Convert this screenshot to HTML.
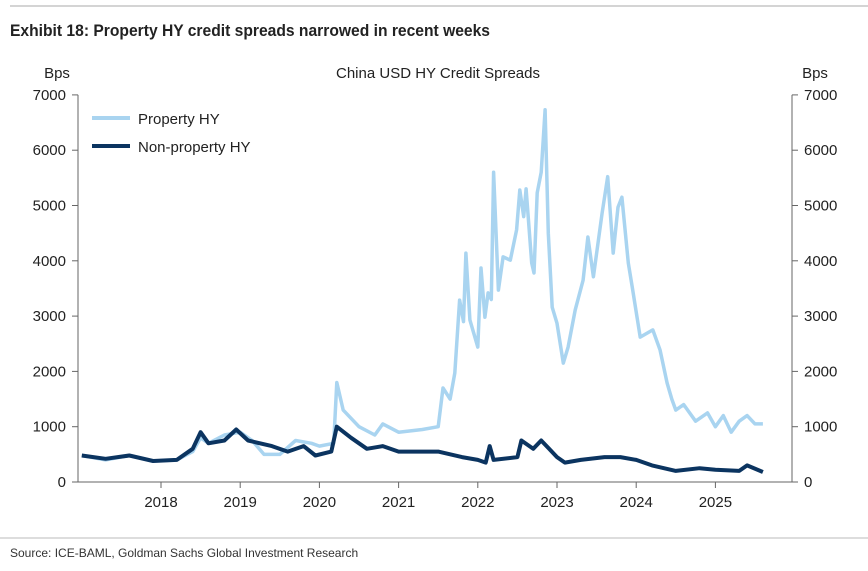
<!DOCTYPE html>
<html><head><meta charset="utf-8"><style>
body{margin:0;background:#fff;width:868px;height:566px;overflow:hidden;font-family:"Liberation Sans",sans-serif}
</style></head><body>
<svg width="868" height="566" font-family="Liberation Sans, sans-serif">
<line x1="10" y1="6" x2="868" y2="6" stroke="#aaa" stroke-width="1"/>
<text x="10" y="36" font-size="17" font-weight="bold" fill="#222" textLength="480" lengthAdjust="spacingAndGlyphs">Exhibit 18: Property HY credit spreads narrowed in recent weeks</text>
<text x="438" y="78" font-size="15" fill="#222" text-anchor="middle">China USD HY Credit Spreads</text>
<text x="57" y="78" font-size="15" fill="#222" text-anchor="middle">Bps</text>
<text x="815" y="78" font-size="15" fill="#222" text-anchor="middle">Bps</text>
<g id="axes"></g>
<g id="series"></g>
<g>
<line x1="92" y1="118" x2="130" y2="118" stroke="#a9d4f0" stroke-width="4"/>
<text x="138" y="124" font-size="15" fill="#222">Property HY</text>
<line x1="92" y1="146" x2="130" y2="146" stroke="#0b3460" stroke-width="4"/>
<text x="138" y="152" font-size="15" fill="#222">Non-property HY</text>
</g>
<line x1="0" y1="538" x2="868" y2="538" stroke="#bbb" stroke-width="1"/>
<text x="10" y="557" font-size="12" fill="#333">Source: ICE-BAML, Goldman Sachs Global Investment Research</text>
</svg>
<script>
const yTicks=[0,1000,2000,3000,4000,5000,6000,7000];
const xYears=[2018,2019,2020,2021,2022,2023,2024,2025];
const propT=[2017.0,2017.3,2017.6,2017.9,2018.2,2018.4,2018.5,2018.6,2018.8,2019.0,2019.15,2019.3,2019.5,2019.7,2019.9,2020.0,2020.18,2020.22,2020.3,2020.5,2020.7,2020.8,2021.0,2021.3,2021.5,2021.56,2021.65,2021.71,2021.77,2021.82,2021.85,2021.9,2022.0,2022.04,2022.09,2022.13,2022.17,2022.2,2022.26,2022.32,2022.41,2022.49,2022.53,2022.58,2022.61,2022.68,2022.71,2022.75,2022.8,2022.85,2022.89,2022.94,2023.0,2023.08,2023.14,2023.23,2023.33,2023.39,2023.46,2023.57,2023.64,2023.71,2023.77,2023.82,2023.9,2023.95,2024.05,2024.21,2024.3,2024.39,2024.45,2024.5,2024.6,2024.75,2024.9,2025.0,2025.1,2025.2,2025.3,2025.4,2025.5,2025.6];
const propV=[480,400,480,380,400,550,800,700,850,900,750,500,500,750,700,650,700,1800,1300,1000,850,1050,900,950,1000,1700,1500,1970,3290,2900,4140,2930,2440,3870,2980,3420,3300,5600,3470,4070,4010,4560,5280,4800,5300,3960,3780,5230,5600,6730,4500,3160,2870,2150,2440,3110,3650,4430,3710,4860,5520,4140,4970,5150,3960,3530,2620,2750,2390,1790,1500,1300,1400,1100,1250,1000,1200,900,1100,1200,1050,1050];
const nonT=[2017.0,2017.3,2017.6,2017.9,2018.2,2018.4,2018.5,2018.6,2018.8,2018.95,2019.1,2019.4,2019.6,2019.8,2019.95,2020.15,2020.22,2020.4,2020.6,2020.8,2021.0,2021.5,2021.8,2022.0,2022.1,2022.15,2022.2,2022.5,2022.55,2022.7,2022.8,2022.9,2023.0,2023.1,2023.3,2023.6,2023.8,2024.0,2024.2,2024.5,2024.8,2025.0,2025.3,2025.4,2025.6];
const nonV=[480,420,480,380,400,600,900,700,750,950,750,650,550,650,480,550,1000,800,600,650,550,550,450,400,350,650,400,450,750,600,750,600,450,350,400,450,450,400,300,200,250,220,200,300,180];
const L=78,R=792,Y0=482,PXK=55.3/1000;
const xs=t=>161+(t-2018)*79.2, ys=v=>Y0-v*PXK;
const NS='http://www.w3.org/2000/svg';
function mk(tag,attrs,parent){const e=document.createElementNS(NS,tag);for(const k in attrs)e.setAttribute(k,attrs[k]);parent.appendChild(e);return e;}
const ax=document.getElementById('axes');
let e=mk('line',{x1:L,y1:ys(7000),x2:L,y2:Y0,stroke:'#666'},ax);


e=mk('line',{x1:R,y1:ys(7000),x2:R,y2:Y0,stroke:'#666'},ax);


e=mk('line',{x1:L,y1:Y0,x2:R,y2:Y0,stroke:'#666'},ax);


yTicks.forEach(v=>{const y=ys(v);
mk('line',{x1:L-6,y1:y,x2:L,y2:y,stroke:'#666'},ax);
mk('line',{x1:R,y1:y,x2:R+6,y2:y,stroke:'#666'},ax);
let t=mk('text',{x:L-12,y:y+5,'font-size':15,fill:'#222','text-anchor':'end'},ax);t.textContent=v;


t=mk('text',{x:R+12,y:y+5,'font-size':15,fill:'#222'},ax);t.textContent=v;

});
xYears.forEach(yr=>{const x=xs(yr);
mk('line',{x1:x,y1:Y0,x2:x,y2:Y0+6,stroke:'#666'},ax);
const t=mk('text',{x:x,y:Y0+25,'font-size':15,fill:'#222','text-anchor':'middle'},ax);t.textContent=yr;

});
const sg=document.getElementById('series');
function line(T,V,color,w,name){const d=T.map((t,i)=>(i?'L':'M')+xs(t).toFixed(1)+','+ys(V[i]).toFixed(1)).join('');
const p=mk('path',{d:d,fill:'none',stroke:color,'stroke-width':w,'stroke-linejoin':'round'},sg);

}
line(propT,propV,'#a9d4f0',3.5,'property-hy-line');
line(nonT,nonV,'#0b3460',4,'non-property-hy-line');
</script>
</body></html>
